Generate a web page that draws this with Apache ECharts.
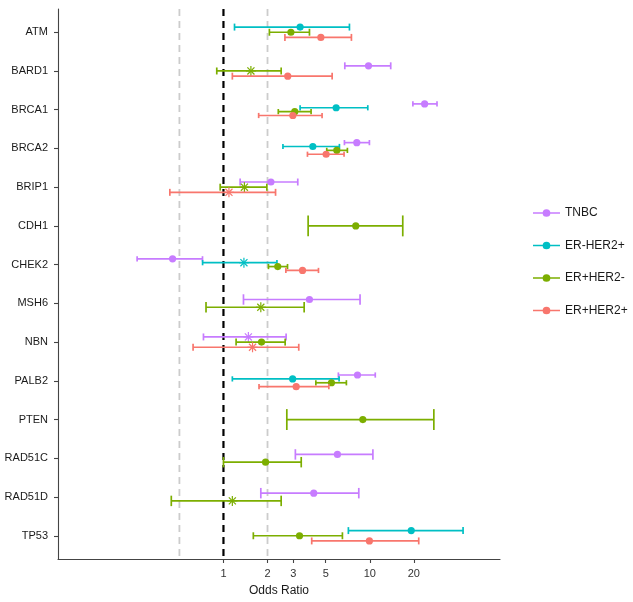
<!DOCTYPE html>
<html>
<head>
<meta charset="utf-8">
<script src="https://cdn.jsdelivr.net/npm/echarts@6/dist/echarts.min.js"></script>
<style>html,body{margin:0;padding:0;background:#fff;}#c{width:633px;height:602px;}</style>
</head>
<body>
<div id="c"></div>
<script>
const categories = ['ATM','BARD1','BRCA1','BRCA2','BRIP1','CDH1','CHEK2','MSH6','NBN','PALB2','PTEN','RAD51C','RAD51D','TP53'];
const groups = ['TNBC','ER-HER2+','ER+HER2-','ER+HER2+'];
const colors = ['#C77CFF','#00BFC4','#7CAE00','#F8766D'];
const xTicks = [1,2,3,5,10,20];
const refLines = [0.5, 1, 2];

const tnbcOR  = [null, 9.8, 23.7, 8.15, 2.11, null, 0.449, 3.87, 1.48, 8.24, null, 6.01, 4.14, null];
const tnbcLo  = [null, 6.75, 19.7, 6.71, 1.30, null, 0.257, 1.37, 0.73, 6.1, null, 3.1, 1.80, null];
const tnbcHi  = [null, 13.9, 28.8, 9.94, 3.22, null, 0.719, 8.58, 2.68, 10.9, null, 10.5, 8.41, null];
const tnbcSig = [null, true, true, true, true, null, true, true, false, true, null, true, true, null];

const ernOR  = [3.34, null, 5.89, 4.08, null, null, 1.38, null, null, 2.97, null, null, null, 19.2];
const ernLo  = [1.19, null, 3.34, 2.55, null, null, 0.72, null, null, 1.15, null, null, null, 7.14];
const ernHi  = [7.26, null, 9.69, 6.2, null, null, 2.32, null, null, 6.17, null, null, null, 43.4];
const ernSig = [true, null, true, true, null, null, false, null, null, true, null, null, null, true];

const erpnOR  = [2.89, 1.54, 3.07, 5.95, 1.39, 8.02, 2.35, 1.80, 1.82, 5.47, 8.96, 1.94, 1.15, 3.31];
const erpnLo  = [2.06, 0.90, 2.37, 5.08, 0.95, 3.79, 2.03, 0.76, 1.22, 4.28, 2.71, 1.0, 0.44, 1.60];
const erpnHi  = [3.87, 2.48, 3.97, 7.03, 1.98, 16.8, 2.74, 3.56, 2.64, 6.92, 27.4, 3.40, 2.48, 6.5];
const erpnSig = [true, false, true, true, false, true, true, false, true, true, true, true, false, true];

const erppOR  = [4.63, 2.75, 2.98, 5.03, 1.09, null, 3.47, null, 1.58, 3.14, null, null, null, 9.94];
const erppLo  = [2.63, 1.15, 1.74, 3.75, 0.43, null, 2.67, null, 0.62, 1.75, null, null, null, 4.01];
const erppHi  = [7.49, 5.53, 4.72, 6.67, 2.27, null, 4.46, null, 3.27, 5.25, null, null, null, 21.6];
const erppSig = [true, true, true, true, false, null, true, null, false, true, null, null, null, true];

const seriesData = [
  [tnbcOR, tnbcLo, tnbcHi, tnbcSig],
  [ernOR, ernLo, ernHi, ernSig],
  [erpnOR, erpnLo, erpnHi, erpnSig],
  [erppOR, erppLo, erppHi, erppSig]
];

// dodge computation
const DODGE = 0.4;
const CAP = 0.27;
const built = groups.map(() => []);
categories.forEach((c, ci) => {
  const present = [];
  seriesData.forEach((s, gi) => { if (s[0][ci] != null) present.push(gi); });
  const n = present.length;
  present.forEach((gi, rank) => {
    const s = seriesData[gi];
    const y = ci + (rank - (n - 1) / 2) * DODGE / n;
    built[gi].push([s[1][ci], s[2][ci], s[0][ci], y, s[3][ci] ? 1 : 0, n]);
  });
});

function makeRender(color) {
  return function (params, api) {
    const lo = api.value(0), hi = api.value(1), or = api.value(2), y = api.value(3);
    const sig = api.value(4), n = api.value(5);
    const pL = api.coord([lo, y]), pH = api.coord([hi, y]), pO = api.coord([or, y]);
    const unit = Math.abs(api.coord([or, y + 1])[1] - pO[1]);
    const h = CAP / n * unit;
    const ls = { stroke: color, lineWidth: 1.7 };
    const children = [
      { type: 'line', shape: { x1: pL[0], y1: pL[1], x2: pH[0], y2: pH[1] }, style: ls },
      { type: 'line', shape: { x1: pL[0], y1: pL[1] - h, x2: pL[0], y2: pL[1] + h }, style: ls },
      { type: 'line', shape: { x1: pH[0], y1: pH[1] - h, x2: pH[0], y2: pH[1] + h }, style: ls }
    ];
    if (sig) {
      children.push({ type: 'circle', shape: { cx: pO[0], cy: pO[1], r: 3.6 }, style: { fill: color } });
    } else {
      const r = 5, d = r * 0.7071;
      const ss = { stroke: color, lineWidth: 1.2 };
      children.push({ type: 'line', shape: { x1: pO[0] - r, y1: pO[1], x2: pO[0] + r, y2: pO[1] }, style: ss });
      children.push({ type: 'line', shape: { x1: pO[0], y1: pO[1] - r, x2: pO[0], y2: pO[1] + r }, style: ss });
      children.push({ type: 'line', shape: { x1: pO[0] - d, y1: pO[1] - d, x2: pO[0] + d, y2: pO[1] + d }, style: ss });
      children.push({ type: 'line', shape: { x1: pO[0] - d, y1: pO[1] + d, x2: pO[0] + d, y2: pO[1] - d }, style: ss });
    }
    return { type: 'group', children: children };
  };
}

const legendIcon = 'path://M0,3.1 L10.5,3.1 L10.5,4.9 L0,4.9 Z M10,4 A4,4 0 1,1 18,4 A4,4 0 1,1 10,4 Z M17.5,3.1 L28,3.1 L28,4.9 L17.5,4.9 Z';

const series = [{
  type: 'custom',
  name: 'refs',
  silent: true,
  z: 1,
  data: refLines.map(v => [v]),
  encode: { x: 0 },
  renderItem: function (params, api) {
    const v = api.value(0);
    const a = api.coord([v, -0.6]), b = api.coord([v, 13.6]);
    const black = v === 1;
    return { type: 'line', shape: { x1: a[0], y1: a[1], x2: b[0], y2: b[1] },
      style: { stroke: black ? '#000' : '#cccccc', lineWidth: black ? 2.2 : 1.8, lineDash: [7, 5] } };
  }
}];
groups.forEach((g, gi) => {
  series.push({
    type: 'custom',
    name: g,
    z: 2,
    itemStyle: { color: colors[gi] },
    data: built[gi],
    encode: { x: [0, 1, 2], y: 3 },
    renderItem: makeRender(colors[gi])
  });
});

const chart = echarts.init(document.getElementById('c'), null, { renderer: 'canvas' });
chart.setOption({
  animation: false,
  backgroundColor: '#fff',
  textStyle: { fontFamily: 'Liberation Sans' },
  grid: { left: 58, right: 133, top: 9, bottom: 40, containLabel: false },
  legend: {
    orient: 'vertical',
    left: 528,
    top: 201,
    itemWidth: 27,
    itemHeight: 8,
    itemGap: 18.5,
    icon: legendIcon,
    data: groups.map((g, i) => ({ name: g, itemStyle: { color: colors[i] } })),
    textStyle: { fontSize: 12, color: '#1a1a1a', lineHeight: 14, fontFamily: 'Liberation Sans' },
    selectedMode: false
  },
  xAxis: {
    type: 'log',
    logBase: 10,
    position: 'bottom',
    min: 0.074,
    max: 77.6,
    name: 'Odds Ratio',
    nameLocation: 'middle',
    nameGap: 26,
    nameTextStyle: { fontSize: 12, color: '#1a1a1a', fontFamily: 'Liberation Sans' },
    axisLine: { show: true, onZero: false, lineStyle: { color: '#444', width: 1.1 } },
    axisTick: { show: true, length: 4, customValues: xTicks, lineStyle: { color: '#444', width: 1.1 } },
    axisLabel: { customValues: xTicks, margin: 9, fontSize: 11, color: '#333', fontFamily: 'Liberation Sans',
      formatter: v => String(Math.round(v)) },
    splitLine: { show: false },
    minorTick: { show: false },
    minorSplitLine: { show: false }
  },
  yAxis: {
    type: 'value',
    inverse: true,
    position: 'left',
    min: -0.6,
    max: 13.6,
    axisLine: { show: true, onZero: false, lineStyle: { color: '#444', width: 1.1 } },
    axisTick: { show: true, length: 4, customValues: categories.map((c, i) => i), lineStyle: { color: '#444', width: 1.1 } },
    axisLabel: { customValues: categories.map((c, i) => i), margin: 10, fontSize: 11, color: '#1a1a1a', fontFamily: 'Liberation Sans',
      formatter: v => categories[Math.round(v)] },
    splitLine: { show: false }
  },
  series: series
});
</script>
</body>
</html>
